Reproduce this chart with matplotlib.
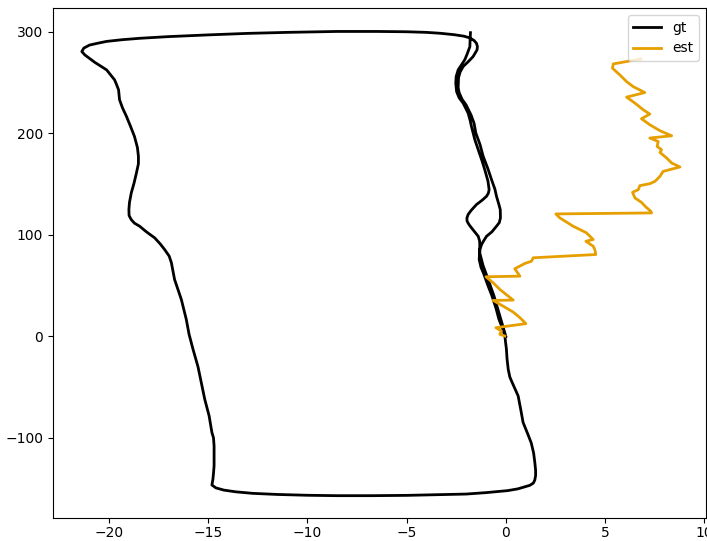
import matplotlib
matplotlib.use("Agg")
import matplotlib.pyplot as plt

gt_x = [-1.78, -1.8, -1.81, -1.95, -2.07, -2.25, -2.4, -2.5, -2.52, -2.48,
        -2.35, -2.15, -1.9, -1.8, -1.73, -1.56, -1.39, -1.2, -1.06, -0.9,
        -0.84, -0.88, -0.97, -1.2, -1.48, -1.75, -1.9, -1.96, -1.95, -1.85,
        -1.73, -1.55, -1.39, -1.32, -1.31, -1.34, -1.25, -1.12, -0.9, -0.7,
        -0.5, -0.35, -0.15, -0.05, 0.03, 0.06, 0.12, 0.2, 0.32, 0.62,
        0.75, 0.87, 1.1, 1.28, 1.4, 1.46, 1.5, 1.5, 1.46, 1.39,
        1.21, 0.6, 0.1, -1.0, -2.0, -3.3, -5.0, -6.8, -8.5, -10.0,
        -11.5, -12.75, -13.6, -14.2, -14.6, -14.8, -14.75, -14.72, -14.69, -14.69,
        -14.72, -14.8, -14.94, -15.16, -15.37, -15.5, -15.75, -15.95, -16.09, -16.34,
        -16.68, -16.84, -16.95, -17.18, -17.4, -17.68, -18.1, -18.44, -18.7, -18.86,
        -18.97, -18.98, -18.95, -18.86, -18.72, -18.6, -18.5, -18.5, -18.55, -18.7,
        -18.9, -19.1, -19.3, -19.45, -19.5, -19.6, -19.7, -20.1, -20.7, -21.2,
        -21.35, -21.25, -20.96, -20.5, -20.1, -19.3, -18.4, -17.0, -15.0, -13.0,
        -11.0, -8.5, -6.5, -5.0, -4.0, -3.3, -2.6, -2.1, -1.81, -1.6,
        -1.48, -1.43, -1.45, -1.55, -1.65, -1.9, -2.15, -2.3, -2.38, -2.4,
        -2.35, -2.2, -2.0, -1.75, -1.6, -1.51, -1.3, -1.14, -0.9, -0.72,
        -0.55, -0.47, -0.35, -0.28, -0.27, -0.33, -0.47, -0.7, -0.97, -1.12,
        -1.22, -1.3, -1.31, -1.15, -1.0, -0.8, -0.6, -0.42, -0.25, -0.1,
        0.0]
gt_y = [299.2, 292.0, 285.4, 278.0, 272.4, 267.0, 262.5, 256.0, 249.5, 241.2,
        235.0, 229.8, 220.0, 213.0, 206.8, 193.7, 183.9, 173.0, 164.2, 153.0,
        144.5, 141.0, 138.0, 134.0, 129.8, 124.0, 120.0, 116.5, 113.4, 110.0,
        106.9, 102.5, 98.6, 94.0, 88.8, 75.7, 68.0, 62.0, 50.0, 40.0,
        28.0, 17.0, 7.0, 0.3, -12.8, -22.0, -32.4, -40.0, -45.5, -58.7,
        -72.0, -84.9, -96.0, -105.0, -115.0, -124.2, -132.0, -137.0, -141.5, -144.5,
        -146.8, -150.3, -152.0, -154.0, -155.4, -156.0, -156.7, -157.0, -157.0, -156.6,
        -155.8, -154.7, -153.2, -151.5, -149.3, -146.5, -141.0, -135.0, -127.5, -108.0,
        -100.0, -94.7, -78.4, -62.0, -42.3, -30.0, -12.8, 2.0, 16.7, 36.4,
        56.0, 72.5, 79.0, 85.5, 91.0, 97.0, 103.0, 108.5, 111.5, 115.0,
        119.0, 125.0, 132.0, 141.3, 151.0, 161.0, 170.0, 177.3, 186.0, 197.0,
        207.0, 216.6, 225.0, 233.0, 242.9, 248.0, 252.7, 262.5, 270.0, 277.3,
        280.6, 284.0, 287.0, 289.0, 290.6, 292.3, 293.7, 295.3, 297.0, 298.5,
        299.5, 300.4, 300.4, 300.1, 299.5, 298.6, 297.2, 295.7, 294.0, 291.5,
        288.8, 285.5, 282.2, 279.0, 275.6, 270.5, 265.8, 260.5, 255.0, 245.0,
        240.0, 233.5, 228.0, 218.0, 210.0, 200.3, 189.0, 177.3, 165.0, 154.4,
        145.0, 138.0, 130.0, 124.9, 116.7, 112.0, 108.5, 103.0, 98.6, 94.0,
        90.5, 86.0, 82.0, 70.0, 62.0, 51.0, 40.0, 28.0, 17.0, 7.0,
        0.0]

# estimated trajectory
est_x = [-0.05, -0.3, -0.22, -0.5, 1.01, 0.71, 0.37, -0.14, -0.64, 0.37,
         -0.3, -0.64, -1.0, 0.71, 0.45, 0.96, 1.29, 1.38, 4.53, 4.48,
         4.4, 4.03, 4.4, 4.06, 3.39, 2.72, 2.52, 7.34, 7.3, 7.05,
         6.83, 6.5, 6.38, 6.67, 6.75, 7.25, 7.51, 7.76, 7.92, 8.77,
         8.35, 8.1, 7.76, 7.84, 7.62, 7.67, 7.25, 8.35, 7.76, 7.25,
         6.83, 7.25, 6.92, 6.5, 6.08, 7.0, 6.41, 6.08, 5.74, 5.37,
         5.41, 6.8]
est_y = [0.3, 2.0, 5.2, 8.5, 12.5, 18.4, 23.9, 29.8, 35.4, 35.7,
         46.2, 52.8, 58.7, 59.3, 66.6, 71.8, 74.0, 77.4, 80.6, 85.5,
         88.8, 93.7, 95.4, 102.0, 108.5, 116.7, 120.6, 121.6, 123.2, 127.5,
         132.0, 136.4, 141.9, 144.5, 148.5, 150.4, 152.7, 157.6, 162.5, 166.9,
         170.8, 175.7, 181.2, 183.9, 187.1, 192.0, 195.4, 197.6, 202.6, 208.5,
         214.4, 219.0, 223.2, 229.8, 235.7, 240.2, 246.1, 251.0, 257.6, 264.2,
         268.4, 273.3]

fig = plt.figure(figsize=(7.07, 5.41), dpi=100)
ax = fig.add_axes([0.075, 0.0425, 0.9236, 0.9427])

ax.plot(gt_x, gt_y, color="black", lw=2, label="gt", solid_joinstyle="round")
ax.plot(est_x, est_y, color="#e69f00", lw=2, label="est")

ax.set_xlim(-22.8, 10.08)
ax.set_ylim(-179, 323.5)
ax.tick_params(axis="x", pad=2.5)
ax.legend(loc="upper right")

fig.savefig("out.png", dpi=100)
